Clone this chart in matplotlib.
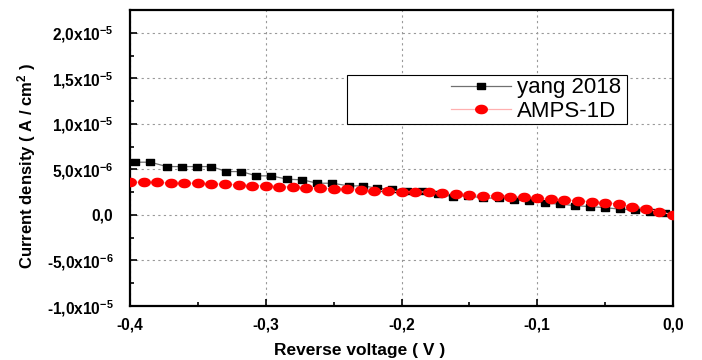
import numpy as np
import matplotlib
matplotlib.use("Agg")
import matplotlib.pyplot as plt
from matplotlib.patches import Rectangle
from matplotlib.ticker import FixedLocator, FixedFormatter, MultipleLocator

plt.rcParams['font.family'] = ['Liberation Sans', 'DejaVu Sans']
plt.rcParams['mathtext.fontset'] = 'custom'
plt.rcParams['mathtext.rm'] = 'Liberation Sans:bold'
plt.rcParams['mathtext.it'] = 'Liberation Sans:bold'
plt.rcParams['mathtext.bf'] = 'Liberation Sans:bold'

# yang 2018 (black squares)
yang_v = [-0.396, -0.385, -0.373, -0.362, -0.351, -0.340, -0.329, -0.318, -0.307,
          -0.296, -0.284, -0.273, -0.262, -0.251, -0.239, -0.228, -0.218, -0.207,
          -0.196, -0.185, -0.173, -0.162, -0.151, -0.140, -0.128, -0.117, -0.106,
          -0.094, -0.083, -0.072, -0.061, -0.050, -0.039, -0.028, -0.017, -0.006, 0.0]
yang_j = [5.79, 5.79, 5.31, 5.31, 5.31, 5.31, 4.76, 4.76, 4.29, 4.29, 3.92, 3.85,
          3.48, 3.48, 3.19, 3.19, 2.93, 2.82, 2.64, 2.64, 2.31, 2.01, 2.12, 1.85,
          1.85, 1.65, 1.54, 1.29, 1.18, 1.02, 0.91, 0.80, 0.63, 0.55, 0.30, 0.19, 0.0]

# AMPS-1D (red circles), every 0.01 V
amps_v = [round(-0.40 + 0.01 * i, 2) for i in range(41)]
amps_j = [3.59, 3.59, 3.59, 3.48, 3.48, 3.48, 3.41, 3.37, 3.30, 3.22, 3.19,
          3.11, 3.04, 3.00, 2.93, 2.86, 2.82, 2.75, 2.67, 2.64, 2.56,
          2.56, 2.49, 2.38, 2.31, 2.20, 2.12, 2.09, 2.01, 1.94, 1.83,
          1.72, 1.65, 1.54, 1.46, 1.35, 1.18, 0.91, 0.66, 0.36, 0.0]

yang_j = np.array(yang_j) * 1e-6
amps_j = np.array(amps_j) * 1e-6

x_ticks = [-0.4, -0.3, -0.2, -0.1, 0.0]
x_labels = ['-0,4', '-0,3', '-0,2', '-0,1', '0,0']
y_ticks = [-1e-5, -5e-6, 0, 5e-6, 1e-5, 1.5e-5, 2e-5]
y_labels = [r'-1,0x10$^{-5}$', r'-5,0x10$^{-6}$', '0,0', r'5,0x10$^{-6}$',
            r'1,0x10$^{-5}$', r'1,5x10$^{-5}$', r'2,0x10$^{-5}$']

# slightly stretched markers, like the original picture
t = np.linspace(0, 2 * np.pi, 40)
ellipse = np.column_stack([1.4 * np.cos(t), np.sin(t)])
rect = np.array([[-1.3, -1], [1.3, -1], [1.3, 1], [-1.3, 1], [-1.3, -1]])

fig = plt.figure(figsize=(7.02, 3.6), dpi=100)
ax = fig.add_axes([130 / 702, 1 - 306 / 360, 543 / 702, 296 / 360])

ax.plot(yang_v, yang_j, color='#707070', lw=0.9, marker=rect, ms=5.4,
        mfc='black', mec='black', label='yang 2018', zorder=3)
ax.plot(amps_v, amps_j, color='#ffb0b0', lw=0.9, marker=ellipse, ms=8.3,
        mfc='red', mec='red', label='AMPS-1D', zorder=4)

ax.set_xlim(-0.4, 0.0)
ax.set_ylim(-1e-5, 2.25e-5)
ax.xaxis.set_major_locator(FixedLocator(x_ticks))
ax.xaxis.set_major_formatter(FixedFormatter(x_labels))
ax.xaxis.set_minor_locator(MultipleLocator(0.05))
ax.yaxis.set_major_locator(FixedLocator(y_ticks))
ax.yaxis.set_major_formatter(FixedFormatter(y_labels))
ax.yaxis.set_minor_locator(MultipleLocator(2.5e-6))

ax.tick_params(which='both', direction='in', width=1.2, labelsize=11.2)
ax.tick_params(which='major', length=5)
ax.tick_params(which='minor', length=3)
ax.tick_params(axis='x', which='major', pad=8)
ax.tick_params(axis='y', which='major', pad=12)
for lab in ax.get_xticklabels() + ax.get_yticklabels():
    lab.set_fontweight('bold')

for s in ax.spines.values():
    s.set_linewidth(1.6)

ax.grid(True, which='major', color='#999999', lw=0.8, ls=(0, (2, 3)))
ax.set_axisbelow(True)

# legend box
bx0, bx1 = (347 - 130) / 543, (627 - 130) / 543
by0, by1 = 1 - (124 - 10) / 296, 1 - (75 - 10) / 296
ax.add_patch(Rectangle((bx0, by0), bx1 - bx0, by1 - by0, transform=ax.transAxes,
                       facecolor='white', edgecolor='black', lw=0.8, zorder=5))
leg = ax.legend(loc='center right', bbox_to_anchor=(bx1, (by0 + by1) / 2),
                fontsize=16, frameon=False, handlelength=2.7, handletextpad=0.3,
                labelspacing=0.1, borderpad=0.1, borderaxespad=0.15)
leg.set_zorder(6)

fig.text(27 / 702, 1 - 166 / 360, r'Current density ( A / cm$^{2}$ )', rotation=90,
         ha='center', va='center', fontsize=12, fontweight='bold')
fig.text(360 / 702, 1 - 350 / 360, 'Reverse voltage ( V )', ha='center', va='center',
         fontsize=12.5, fontweight='bold')

fig.savefig('out.png', dpi=100)
